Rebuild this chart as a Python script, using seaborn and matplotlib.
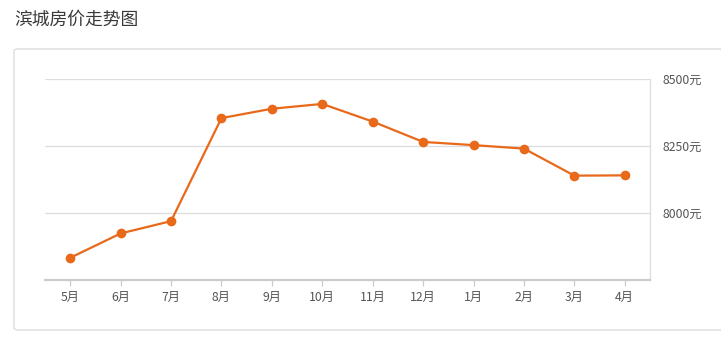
import matplotlib
matplotlib.use("Agg")
import matplotlib.pyplot as plt
import seaborn as sns
import pandas as pd
from matplotlib.patches import FancyBboxPatch

months = ["5月", "6月", "7月", "8月", "9月", "10月", "11月", "12月", "1月", "2月", "3月", "4月"]
prices = [7833, 7924, 7970, 8355, 8390, 8408, 8342, 8266, 8254, 8241, 8140, 8141]
yticks = [8000, 8250, 8500]
ytick_labels = ["8000元", "8250元", "8500元"]
title = "滨城房价走势图"

sns.set_theme(style="white")
plt.rcParams['font.family'] = ['Noto Sans CJK SC', 'DejaVu Sans']

df = pd.DataFrame({"month": months, "price": prices})

fig = plt.figure(figsize=(7.21, 3.45), dpi=100)
fig.patch.set_facecolor("white")

# outer panel
panel = FancyBboxPatch((14 / 721, (345 - 330) / 345), (730 - 14) / 721, (330 - 49) / 345,
                       boxstyle="round,pad=0,rounding_size=0.006", transform=fig.transFigure,
                       facecolor="white", edgecolor="#dcdcdc", linewidth=1.0, zorder=-5)
fig.patches.append(panel)

fig.text(14 / 721, 1 - 20 / 345, title, fontsize=12.8, color="#3a3a3a", va="center", ha="left")

ax = fig.add_axes([45 / 721, (345 - 280) / 345, (650 - 45) / 721, (280 - 79.3) / 345])
ax.set_zorder(5)
ax.set_facecolor("none")

sns.lineplot(data=df, x="month", y="price", sort=False, ax=ax, color="#E8691A",
             linewidth=1.6, marker="o", markersize=7, markeredgewidth=0, zorder=3)

ax.set_xlim(-0.5, len(months) - 0.5)
ax.set_ylim(7750, 8500)
ax.set_yticks(yticks)
ax.set_yticklabels(ytick_labels)
ax.yaxis.tick_right()
ax.set_xticks(range(len(months)))
ax.set_xticklabels(months)
ax.set_xlabel("")
ax.set_ylabel("")

ax.grid(axis="y", color="#dddddd", linewidth=0.9)
ax.grid(axis="x", visible=False)

for s in ["left", "top"]:
    ax.spines[s].set_visible(False)
ax.spines["right"].set_color("#dddddd")
ax.spines["right"].set_linewidth(0.9)
ax.spines["bottom"].set_color("#cccccc")
ax.spines["bottom"].set_linewidth(1.6)

ax.tick_params(axis="x", which="both", bottom=True, length=4, width=0.9, color="#cccccc",
               labelsize=8.8, labelcolor="#555555", pad=4)
ax.tick_params(axis="y", which="both", right=False, left=False, length=0,
               labelsize=8.8, labelcolor="#555555", pad=9)

fig.savefig("out.png", dpi=100)
